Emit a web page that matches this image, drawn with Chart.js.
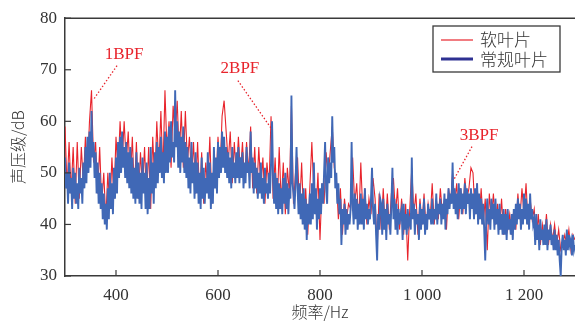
<!DOCTYPE html>
<html>
<head>
<meta charset="utf-8">
<script src="https://cdn.jsdelivr.net/npm/chart.js@4"></script>
<style>
html,body{margin:0;padding:0;background:#fff;overflow:hidden;}
#wrap{width:575px;height:326px;position:relative;}
</style>
</head>
<body>
<div id="wrap"><canvas id="c" width="575" height="326"></canvas></div>
<script>
// Frequency grids (Hz)
const freqStart = 300;
const blueStep = 2;
const redStep = 4;

// 常规叶片 (blue) sound pressure level, dB, every 2 Hz from 300 Hz
const blueSPL = [
 53,47,50,44,52,46,49,43,51,45,
 50,44,48,43,51,46,49,44,52,47,
 55,48,57,50,58,51,62,53,56,49,
 54,46,52,44,50,43,48,41,46,40,
 44,39,47,41,50,43,48,42,51,45,
 53,46,56,49,57,50,58,51,55,49,
 56,48,54,47,55,46,53,45,51,44,
 54,45,52,44,50,43,53,46,50,43,
 52,42,49,43,55,46,52,44,54,47,
 56,48,55,50,57,49,54,48,58,50,
 57,50,59,52,60,53,56,52,66,55,
 60,51,58,50,57,52,59,50,56,49,
 55,47,53,46,56,48,52,45,54,46,
 52,44,50,43,53,45,51,44,49,46,
 54,45,52,43,50,44,55,47,53,46,
 56,49,55,50,58,51,57,50,55,49,
 54,48,53,47,55,49,52,48,54,49,
 55,48,53,49,54,47,52,48,55,50,
 52,47,58,50,53,46,52,47,51,45,
 50,46,52,45,49,44,51,46,48,45,
 50,46,52,60,49,44,50,43,49,42,
 48,43,47,42,49,44,50,43,48,42,
 47,45,65,48,46,43,48,55,47,42,
 48,41,46,40,47,39,45,37,44,40,
 46,40,48,41,52,42,47,39,45,41,
 47,42,48,44,50,56,47,44,53,48,
 52,49,61,52,55,47,50,44,48,42,
 45,36,43,40,44,38,43,39,42,40,
 43,56,44,40,46,41,45,39,44,40,
 46,40,45,39,47,41,44,40,43,41,
 45,51,43,40,44,38,33,42,39,45,
 44,38,45,39,43,37,44,40,42,38,
 44,51,41,45,39,44,38,43,40,42,
 43,37,44,39,42,38,43,40,41,39,
 53,41,44,38,43,40,42,37,44,39,
 43,40,45,38,42,39,44,41,43,40,
 45,40,43,41,46,40,44,42,45,40,
 44,41,46,39,45,42,47,43,46,44,
 52,43,47,42,46,41,48,43,47,42,
 46,43,48,42,47,44,46,41,47,43,
 46,41,47,42,48,40,46,41,45,40,
 44,39,33,41,45,40,43,39,45,41,
 44,39,45,40,43,38,44,39,42,38,
 43,38,42,37,43,39,41,38,42,37,
 43,39,44,40,45,41,44,39,43,40,
 46,41,45,40,44,39,46,41,43,40,
 41,36,42,37,40,35,41,37,39,36,
 40,36,41,35,39,37,40,36,38,35,
 39,35,38,34,37,33,30,36,38,35,
 37,34,39,35,38,36,37,34,38,35,
 36
];

// 软叶片 (red) sound pressure level, dB, every 4 Hz from 300 Hz
const redSPL = [
 59,47,56,46,55,44,56,45,55,48,
 57,50,60,66,52,56,46,55,44,50,
 41,50,43,53,45,57,50,60,52,60,
 52,58,48,57,46,56,45,54,47,55,
 44,55,43,57,48,60,51,62,50,66,
 54,60,51,63,57,64,53,62,51,62,
 52,57,49,56,46,56,45,54,44,52,
 47,57,44,52,48,57,50,61,64,58,
 52,58,48,56,49,57,50,56,48,56,
 50,59,47,55,46,55,47,53,44,52,
 47,61,45,53,43,55,44,52,42,51,
 46,63,44,50,53,43,52,41,47,38,
 47,56,46,42,50,37,48,44,54,49,
 54,59,51,49,41,47,38,45,41,44,
 43,53,44,48,40,52,42,47,40,45,
 42,49,45,35,46,39,47,39,46,39,
 46,49,42,47,39,45,38,44,33,43,
 51,42,46,38,45,40,46,39,44,41,
 48,40,45,41,47,42,45,39,47,44,
 50,44,48,41,47,42,49,45,47,51,
 50,42,48,41,47,40,45,35,46,41,
 46,40,44,39,45,38,43,39,42,38,
 43,39,46,41,47,42,48,40,45,41,
 43,37,42,36,40,37,42,36,40,37,
 40,36,39,35,36,38,36,39,35,38,
 37
];

const seriesNames = ['软叶片', '常规叶片'];
const xTicks = [400, 600, 800, 1000, 1200];
const yTicks = [30, 40, 50, 60, 70, 80];

// BPF annotations: label position and dotted pointer (data coords)
const bpfLabels = ['1BPF', '2BPF', '3BPF'];
const bpfLabelPos = [[416, 72.9], [643, 70.2], [1112, 57.2]];
const bpfLineFrom = [[402, 70.8], [639, 67.9], [1098, 55.1]];
const bpfLineTo = [[355, 64.1], [706, 58.4], [1063, 48.8]];

const toXY = (arr, step) => arr.map((v, i) => ({x: freqStart + i * step, y: v}));

const serif = '"Liberation Serif", "DejaVu Serif", serif';
const cjk = '"Noto Sans CJK SC", sans-serif';
const axisColor = '#3a3a3a';
const textColor = '#333';

const extras = {
  id: 'extras',
  afterDraw(chart) {
    const ctx = chart.ctx, a = chart.chartArea;
    const xs = chart.scales.x, ys = chart.scales.y;
    ctx.save();
    ctx.strokeStyle = axisColor; ctx.lineWidth = 1.5;
    ctx.beginPath(); ctx.moveTo(a.left, a.top); ctx.lineTo(a.right, a.top); ctx.stroke();
    ctx.lineWidth = 1.2;
    xTicks.forEach(v => { const p = xs.getPixelForValue(v); ctx.beginPath(); ctx.moveTo(p, a.bottom); ctx.lineTo(p, a.bottom - 6); ctx.stroke(); });
    yTicks.forEach(v => { const p = ys.getPixelForValue(v); ctx.beginPath(); ctx.moveTo(a.left, p); ctx.lineTo(a.left + 6, p); ctx.stroke(); });
    ctx.fillStyle = '#e8242c'; ctx.strokeStyle = '#e8242c';
    ctx.font = '17px ' + serif; ctx.textAlign = 'center'; ctx.textBaseline = 'middle';
    bpfLabels.forEach((t, i) => {
      ctx.fillText(t, xs.getPixelForValue(bpfLabelPos[i][0]), ys.getPixelForValue(bpfLabelPos[i][1]));
      ctx.setLineDash([1.5, 2]); ctx.lineWidth = 1.3;
      ctx.beginPath();
      ctx.moveTo(xs.getPixelForValue(bpfLineFrom[i][0]), ys.getPixelForValue(bpfLineFrom[i][1]));
      ctx.lineTo(xs.getPixelForValue(bpfLineTo[i][0]), ys.getPixelForValue(bpfLineTo[i][1]));
      ctx.stroke(); ctx.setLineDash([]);
    });
    const lx = 433, ly = 26, lw = 127, lh = 46;
    ctx.fillStyle = '#fff'; ctx.fillRect(lx, ly, lw, lh);
    ctx.strokeStyle = axisColor; ctx.lineWidth = 1.3; ctx.strokeRect(lx, ly, lw, lh);
    ctx.lineWidth = 1.2; ctx.strokeStyle = '#e8242c';
    ctx.beginPath(); ctx.moveTo(441, 40); ctx.lineTo(473, 40); ctx.stroke();
    ctx.lineWidth = 3; ctx.strokeStyle = '#2e3192';
    ctx.beginPath(); ctx.moveTo(441, 59); ctx.lineTo(473, 59); ctx.stroke();
    ctx.fillStyle = textColor; ctx.font = '300 17px ' + cjk; ctx.textAlign = 'left';
    ctx.fillText(seriesNames[0], 480, 40);
    ctx.fillText(seriesNames[1], 480, 60);
    ctx.restore();
  }
};

new Chart(document.getElementById('c'), {
  type: 'line',
  data: {
    datasets: [
      {label: seriesNames[0], data: toXY(redSPL, redStep), borderColor: '#e8242c', borderWidth: 1.1, pointRadius: 0, tension: 0, order: 2},
      {label: seriesNames[1], data: toXY(blueSPL, blueStep), borderColor: '#4068b6', borderWidth: 1.9, pointRadius: 0, tension: 0, order: 1}
    ]
  },
  options: {
    responsive: false, animation: false, devicePixelRatio: 1,
    layout: {padding: {top: 15, right: 0, left: 0, bottom: 0}},
    plugins: {legend: {display: false}, tooltip: {enabled: false}},
    scales: {
      x: {
        type: 'linear', min: 300, max: 1300,
        afterBuildTicks: s => { s.ticks = xTicks.map(v => ({value: v})); },
        afterFit: s => { s.height = 50; },
        grid: {display: false, drawTicks: false},
        border: {display: true, color: axisColor, width: 1.5},
        ticks: {padding: 9, color: textColor, font: {family: serif, size: 17},
          callback: v => v >= 1000 ? Math.floor(v / 1000) + ' ' + String(v % 1000).padStart(3, '0') : String(v)},
        title: {display: true, text: '频率/Hz', color: textColor, font: {family: cjk, size: 16, weight: 300}, padding: {top: 0, bottom: 4}}
      },
      y: {
        min: 30, max: 80,
        afterBuildTicks: s => { s.ticks = yTicks.map(v => ({value: v})); },
        afterFit: s => { s.width = 65; },
        grid: {display: false, drawTicks: false},
        border: {display: true, color: axisColor, width: 1.5},
        ticks: {padding: 8, color: textColor, font: {family: serif, size: 17}},
        title: {display: true, text: '声压级/dB', color: textColor, font: {family: cjk, size: 16, weight: 300}, padding: {top: 8, bottom: 0}}
      }
    }
  },
  plugins: [extras]
});
</script>
</body>
</html>
